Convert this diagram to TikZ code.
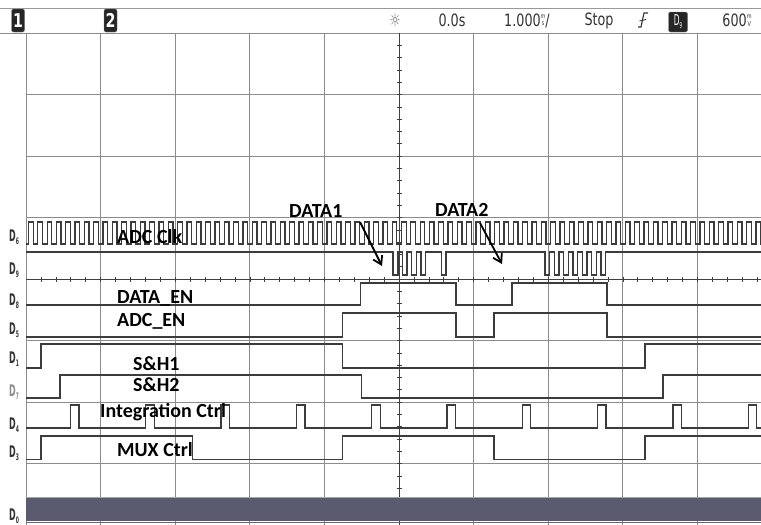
\documentclass[tikz,border=0pt]{standalone}
\usepackage{fontspec}
\usepackage{tikz}
\newfontfamily\sigfont{Carlito}
\newfontfamily\scopefont[FakeStretch=0.75]{DejaVu Sans}
\newfontfamily\chfont[FakeStretch=0.5]{DejaVu Sans}
\usetikzlibrary{arrows.meta}
\definecolor{busfill}{HTML}{5A5B6E}
\definecolor{tracegray}{HTML}{3C3C3C}
\tikzset{
  gridline/.style = {draw=black!45, line width=0.9pt},
  axisline/.style = {draw=black!75, line width=0.6pt},
  trace/.style    = {draw=tracegray, line width=1.3pt},
  siglabel/.style = {anchor=base west, inner sep=0pt,
                     font=\sigfont\bfseries\fontsize{20}{24}\selectfont},
  chlabel/.style  = {anchor=base west, inner sep=0pt, text=black!80,
                     font=\chfont\bfseries\fontsize{16}{17}\selectfont},
  hdr/.style      = {inner sep=0pt, text=black!80,
                     font=\scopefont\fontsize{17}{19}\selectfont},
  numbox/.style   = {fill=black!85, draw=black!50, rounded corners=2pt,
                     text=white, minimum width=13pt, minimum height=23pt,
                     inner sep=0pt, font=\scopefont\bfseries\fontsize{19}{20}\selectfont},
  callout/.style  = {-{Straight Barb[length=8pt,width=10pt]}, line width=1.8pt}
}
\newcommand\chname[1]{D\raisebox{-3pt}{\fontsize{9}{9}\selectfont#1}}
\newcommand\unitstack[2]{\raisebox{0.5pt}{\fontsize{6.5}{8}\selectfont\shortstack{#1\\#2}}}

\begin{document}
\begin{tikzpicture}[x=1pt, y=-1pt]
  \useasboundingbox (0,0) rectangle (761,525);
  \fill[white] (0,0) rectangle (761,525);

  % status bar
  \draw[black!40, line width=1pt] (0,8) -- (761,8);
  \draw[black!45, line width=1pt] (0,33) -- (761,33);
  \node[numbox] (btn1) at (18,20.5) {1};
  \node[numbox] (btn2) at (110.5,20.5) {2};
  \node[hdr, text=black!55] (sun) at (395,20) {☼};
  \node[hdr] (tpos) at (452,20.5) {0.0s};
  \node[hdr] (tdiv) at (527,20.5) {1.000\unitstack{m}{s}/};
  \node[hdr] (run)  at (599,20.5) {Stop};
  \draw[black!80, line width=1.1pt] (638,27) -- (641,27) -- (644,13) -- (648,13);
  \draw[black!80, line width=0.9pt] (639.5,21) -- (646,19.5);
  \node[numbox, minimum width=19pt, minimum height=20pt,
        font=\chfont\fontsize{15}{16}\selectfont] (trigsrc) at (678,22)
    {D\raisebox{-3pt}{\fontsize{8}{8}\selectfont 9}};
  \node[hdr] (tlev) at (737,20.5) {600\unitstack{m}{V}};

  % graticule and traces
  \begin{scope}
    \clip (26,33) rectangle (761,525);
    \foreach \i in {0,1,2,3,4,6,7,8,9,10}
      \draw[gridline] ({26+74.6*\i},33) -- ++(0,492);
    \foreach \j in {1,2,3,5,6,7}
      \draw[gridline] (26,{33+61.5*\j}) -- (761,{33+61.5*\j});
    \draw[axisline] (399,33) -- (399,525);
    \draw[axisline] (26,279) -- (761,279);
    \foreach \t in {1,...,49}
      \draw[axisline] ({26+14.92*\t},276.5) -- ++(0,5);
    \foreach \t in {1,...,39}
      \draw[axisline] (396.5,{33+12.3*\t}) -- ++(5,0);

    \draw[trace] (26,244) \foreach \k in {0,...,79}
      { -- ({28.5+9.325*\k},244) -- ++(0,-22) -- ++(4.66,0) -- ++(0,22) };
    \draw[trace] (26,252)
      \foreach \s/\e in {393/398, 402.3/407, 411.7/416.3, 421/425.7, 441.5/446,
                         545/549.7, 554.3/559, 563.7/568.3, 573/577.7,
                         582.3/587, 591.7/596.3, 601/605.7}
      { -- (\s,252) -- (\s,275) -- (\e,275) -- (\e,252) } -- (761,252);
    \draw[trace] (26,305) -- (360.7,305) -- (360.7,283) -- (456,283) -- (456,305)
      -- (512,305) -- (512,283) -- (607,283) -- (607,305) -- (761,305);
    \draw[trace] (26,337) -- (342.7,337) -- (342.7,313) -- (456,313) -- (456,337)
      -- (494,337) -- (494,313) -- (607,313) -- (607,337) -- (761,337);
    \draw[trace] (26,368) -- (41,368) -- (41,344) -- (342.7,344) -- (342.7,368)
      -- (645,368) -- (645,344) -- (761,344);
    \draw[trace] (26,398) -- (60,398) -- (60,375) -- (361.7,375) -- (361.7,398)
      -- (663,398) -- (663,375) -- (761,375);
    \draw[trace] (26,428) \foreach \k in {0,...,9}
      { -- ({70.5+75.3*\k},428) -- ++(0,-23) -- ++(8.5,0) -- ++(0,23) } -- (761,428);
    \draw[trace] (26,459.5) -- (41,459.5) -- (41,436) -- (192.7,436) -- (192.7,459.5)
      -- (342.7,459.5) -- (342.7,436) -- (494,436) -- (494,459.5) -- (645,459.5)
      -- (645,436) -- (761,436);
    \fill[busfill] (26,497.5) rectangle (761,521);
    \draw[black!35, line width=1pt] (26,497.5) -- (761,497.5);
    \draw[black!60, line width=1pt] (26,522.5) -- (761,522.5);
  \end{scope}

  \node[chlabel] (lbl6) at (9,241) {\chname{6}};
  \node[chlabel] (lbl9) at (9,274) {\chname{9}};
  \node[chlabel] (lbl8) at (9,305) {\chname{8}};
  \node[chlabel] (lbl5) at (9,334) {\chname{5}};
  \node[chlabel] (lbl1) at (9,363) {\chname{1}};
  \node[chlabel, text=black!45] (lbl7) at (9,396) {\chname{7}};
  \node[chlabel] (lbl4) at (9,429) {\chname{4}};
  \node[chlabel] (lbl3) at (9,457) {\chname{3}};
  \node[chlabel] (lbl0) at (9,520) {\chname{0}};

  \node[siglabel] (clk)    at (117,243)   {ADC Clk};
  \node[siglabel] (data1)  at (289,217)   {DATA1};
  \node[siglabel] (data2)  at (435,216)   {DATA2};
  \node[siglabel] (dataen) at (117,303)   {DATA\_EN};
  \node[siglabel] (adcen)  at (117,326.5) {ADC\_EN};
  \node[siglabel] (sh1)    at (133,370)   {S\&H1};
  \node[siglabel] (sh2)    at (133,391.5) {S\&H2};
  \node[siglabel] (integ)  at (100,417)   {Integration Ctrl};
  \node[siglabel] (mux)    at (117,456)   {MUX Ctrl};

  \coordinate (d1from) at (360,222);
  \coordinate (d1to)   at (382,266);
  \coordinate (d2from) at (480,223);
  \coordinate (d2to)   at (502,264);
  \draw[callout] (d1from) -- (d1to);
  \draw[callout] (d2from) -- (d2to);
\end{tikzpicture}
\end{document}
